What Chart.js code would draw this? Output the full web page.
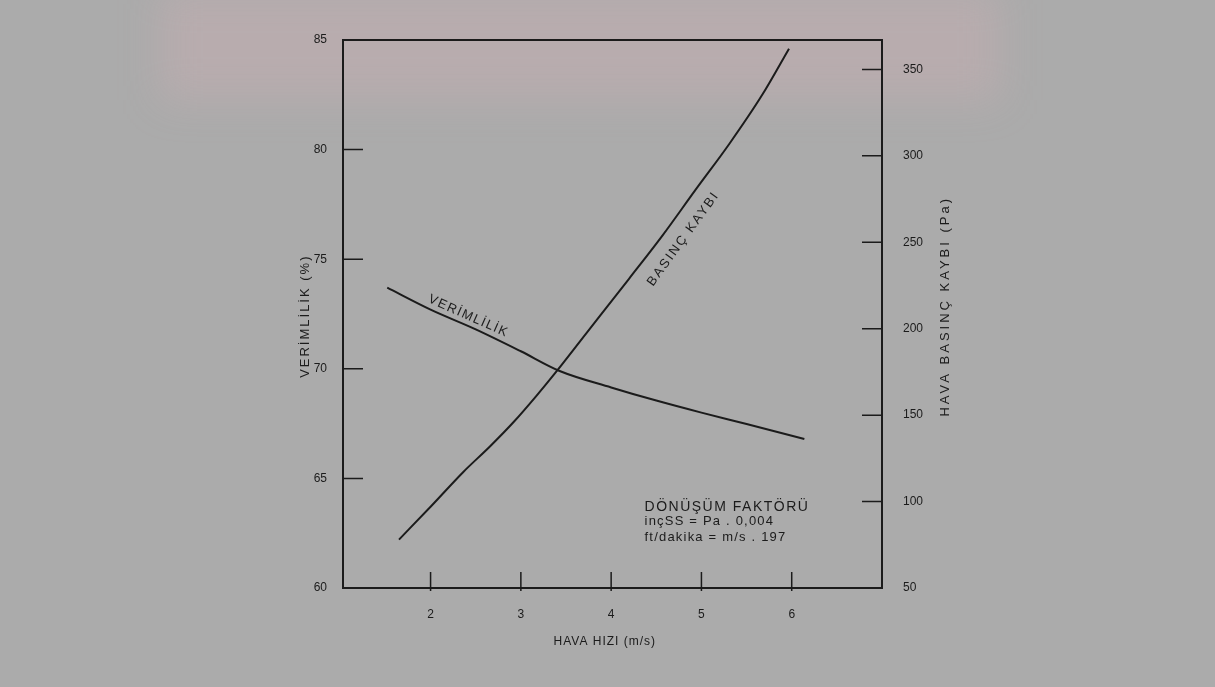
<!DOCTYPE html>
<html lang="tr">
<head>
  <meta charset="UTF-8">
  <title>Verimlilik ve Hava Basınç Kaybı</title>
  <script src="https://cdn.jsdelivr.net/npm/chart.js"></script>
  <style>
    html, body { margin: 0; padding: 0; background: #ababab; }
    #wrap { position: relative; width: 1215px; height: 687px; overflow: hidden; }
    #tint {
      position: absolute; left: 160px; top: -10px; width: 840px; height: 110px;
      background: rgba(232, 178, 188, 0.22); filter: blur(20px);
    }
    #myChart { position: absolute; left: 0; top: 0; }
  </style>
</head>
<body>
<div id="wrap">
  <div id="tint"></div>
  <canvas id="myChart" width="1215" height="687"></canvas>
</div>

<script>
  // air speed (m/s) and efficiency (%)
  const effSpeed = [1.52, 2.0, 2.5, 3.0, 3.43, 4.0, 4.5, 5.0, 5.5, 6.14];
  const efficiency = [73.7, 72.7, 71.8, 70.8, 69.9, 69.15, 68.55, 68.0, 67.48, 66.8];

  // air speed (m/s) and pressure loss (Pa)
  const dpSpeed = [1.65, 2.0, 2.36, 2.66, 2.92, 3.17, 3.39, 3.72, 4.2, 4.57, 4.93, 5.31, 5.67, 5.97];
  const pressureLoss = [78, 97, 117, 132, 146, 161, 175, 197, 229, 254, 280, 307, 335, 362];

  const speedTicks = [2, 3, 4, 5, 6];
  const effTicks = [60, 65, 70, 75, 80, 85];
  const dpTicks = [50, 100, 150, 200, 250, 300, 350];

  const ink = '#1b1b1b';
  const FONT = '"Liberation Sans", Arial, sans-serif';

  function pts(xs, ys) {
    return xs.map((x, i) => ({ x: x, y: ys[i] }));
  }

  // frame, inward tick marks and all the printed text
  const decor = {
    id: 'decor',
    afterDraw(chart) {
      const ctx = chart.ctx;
      const a = chart.chartArea;
      const sx = chart.scales.x, sy = chart.scales.y, sy1 = chart.scales.y1;
      ctx.save();
      ctx.strokeStyle = ink;
      ctx.fillStyle = ink;
      ctx.lineWidth = 2;
      ctx.strokeRect(a.left, a.top, a.right - a.left, a.bottom - a.top);

      ctx.lineWidth = 1.5;
      ctx.beginPath();
      effTicks.slice(1, -1).forEach(v => {
        const p = sy.getPixelForValue(v);
        ctx.moveTo(a.left, p); ctx.lineTo(a.left + 20, p);
      });
      dpTicks.slice(1).forEach(v => {
        const p = sy1.getPixelForValue(v);
        ctx.moveTo(a.right, p); ctx.lineTo(a.right - 20, p);
      });
      speedTicks.forEach(v => {
        const p = sx.getPixelForValue(v);
        ctx.moveTo(p, a.bottom + 3); ctx.lineTo(p, a.bottom - 16);
      });
      ctx.stroke();

      function txt(s, x, y, size, spacing, rot, align) {
        ctx.save();
        ctx.translate(x, y);
        ctx.rotate(rot || 0);
        ctx.font = size + 'px ' + FONT;
        ctx.letterSpacing = spacing + 'px';
        ctx.textAlign = align || 'center';
        ctx.textBaseline = 'middle';
        ctx.fillText(s, 0, 0);
        ctx.restore();
      }

      // axis titles
      txt('HAVA HIZI (m/s)', sx.getPixelForValue(3.93), a.bottom + 54, 12, 1, 0);
      txt('VERİMLİLİK (%)', a.left - 38, sy.getPixelForValue(72.4), 13, 2, -Math.PI / 2);
      txt('HAVA BASINÇ KAYBI (Pa)', a.right + 63, sy1.getPixelForValue(213), 13, 3, -Math.PI / 2);

      // curve labels
      txt('VERİMLİLİK', sx.getPixelForValue(2.42), sy.getPixelForValue(72.4), 13, 1.5, 24 * Math.PI / 180);
      txt('BASINÇ KAYBI', sx.getPixelForValue(4.8), sy1.getPixelForValue(252), 13, 2, -54 * Math.PI / 180);

      // conversion note
      const nx = sx.getPixelForValue(4.37);
      const ny = sy.getPixelForValue(63.7);
      txt('DÖNÜŞÜM FAKTÖRÜ', nx, ny, 14, 1.5, 0, 'left');
      txt('inçSS = Pa . 0,004', nx, ny + 15, 13, 1.2, 0, 'left');
      txt('ft/dakika = m/s . 197', nx, ny + 31, 13, 1.2, 0, 'left');
      ctx.restore();
    }
  };

  const tickFont = { family: FONT, size: 12 };

  const config = {
    type: 'line',
    data: {
      datasets: [{
        label: 'VERİMLİLİK',
        data: pts(effSpeed, efficiency),
        yAxisID: 'y',
        borderColor: ink,
        borderWidth: 2,
        pointRadius: 0,
        cubicInterpolationMode: 'monotone',
        fill: false
      }, {
        label: 'BASINÇ KAYBI',
        data: pts(dpSpeed, pressureLoss),
        yAxisID: 'y1',
        borderColor: ink,
        borderWidth: 2,
        pointRadius: 0,
        cubicInterpolationMode: 'monotone',
        fill: false
      }]
    },
    options: {
      responsive: false,
      animation: false,
      layout: { padding: { top: 40, left: 0, right: 0, bottom: 0 } },
      plugins: { legend: { display: false }, tooltip: { enabled: false } },
      scales: {
        x: {
          type: 'linear',
          min: 1.03, max: 7,
          grid: { display: false },
          border: { display: false },
          afterBuildTicks: s => { s.ticks = speedTicks.map(v => ({ value: v })); },
          afterFit: s => { s.height = 99; },
          ticks: { color: ink, font: tickFont, padding: 11 }
        },
        y: {
          position: 'left',
          min: 60, max: 85,
          grid: { display: false },
          border: { display: false },
          afterBuildTicks: s => { s.ticks = effTicks.map(v => ({ value: v })); },
          afterFit: s => { s.width = 343; },
          ticks: { color: ink, font: tickFont, padding: 8 }
        },
        y1: {
          position: 'right',
          min: 50, max: 367,
          grid: { display: false },
          border: { display: false },
          afterBuildTicks: s => { s.ticks = dpTicks.map(v => ({ value: v })); },
          afterFit: s => { s.width = 333; },
          ticks: { color: ink, font: tickFont, padding: 13 }
        }
      }
    },
    plugins: [decor]
  };

  const ctx = document.getElementById('myChart').getContext('2d');
  new Chart(ctx, config);
</script>
</body>
</html>
